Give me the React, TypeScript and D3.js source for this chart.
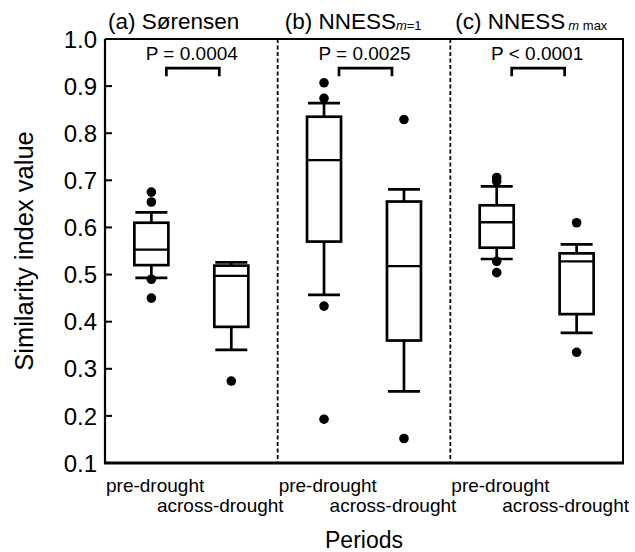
import React, { useRef, useEffect } from "react";
import * as d3 from "d3";

const panels = ["a", "b", "c"];
const periods = ["pre-drought", "across-drought"];
const pLabels = ["P = 0.0004", "P = 0.0025", "P < 0.0001"];
const yTicks = [0.1, 0.2, 0.3, 0.4, 0.5, 0.6, 0.7, 0.8, 0.9, 1.0];

// order: a-pre, a-across, b-pre, b-across, c-pre, c-across
const whiskerLow = [0.493, 0.34, 0.457, 0.252, 0.533, 0.376];
const q1 = [0.52, 0.389, 0.57, 0.36, 0.557, 0.416];
const median = [0.553, 0.497, 0.743, 0.518, 0.611, 0.528];
const q3 = [0.61, 0.519, 0.835, 0.655, 0.647, 0.545];
const whiskerHigh = [0.632, 0.526, 0.864, 0.681, 0.687, 0.564];
const outliers = [
  [0.675, 0.654, 0.49, 0.45],
  [0.274],
  [0.907, 0.874, 0.433, 0.193],
  [0.829, 0.152],
  [0.706, 0.698, 0.528, 0.504],
  [0.61, 0.335],
];

const FONT = "'Liberation Sans', Arial, sans-serif";

const App = () => {
  const svgRef = useRef<SVGSVGElement>(null);
  const width = 635;
  const height = 552;
  const margin = { top: 39, right: 12, bottom: 89, left: 105 };

  useEffect(() => {
    const svg = d3.select(svgRef.current);
    svg.selectAll("*").remove();

    const x0 = margin.left;
    const x1 = width - margin.right;
    const yTop = margin.top;
    const yBot = height - margin.bottom;

    const y = d3.scaleLinear().domain([0.1, 1.0]).range([yBot, yTop]);
    const px = d3.scaleBand().domain(panels).range([x0, x1]).padding(0);
    const bx = d3
      .scalePoint()
      .domain(periods)
      .range([0, px.bandwidth()])
      .padding(0.58);

    const boxes = panels.flatMap((p, i) =>
      periods.map((per, j) => ({ panel: p, period: per, i: i * 2 + j }))
    );
    const cx = (d) => px(d.panel) + bx(d.period);
    const boxW = 34;
    const capW = 32;

    const g = svg.append("g").attr("font-family", FONT);

    // dashed separators
    g.selectAll(".sep")
      .data(panels.slice(1))
      .join("line")
      .attr("x1", (d) => px(d))
      .attr("x2", (d) => px(d))
      .attr("y1", yTop)
      .attr("y2", yBot)
      .attr("stroke", "#000")
      .attr("stroke-width", 1.8)
      .attr("stroke-dasharray", "4,2.5");

    // whiskers
    g.selectAll(".whisk")
      .data(boxes)
      .join("line")
      .attr("x1", cx)
      .attr("x2", cx)
      .attr("y1", (d) => y(whiskerLow[d.i]))
      .attr("y2", (d) => y(whiskerHigh[d.i]))
      .attr("stroke", "#000")
      .attr("stroke-width", 2.7);

    ["low", "high"].forEach((k) => {
      g.selectAll(".cap-" + k)
        .data(boxes)
        .join("line")
        .attr("x1", (d) => cx(d) - capW / 2)
        .attr("x2", (d) => cx(d) + capW / 2)
        .attr("y1", (d) => y(k === "low" ? whiskerLow[d.i] : whiskerHigh[d.i]))
        .attr("y2", (d) => y(k === "low" ? whiskerLow[d.i] : whiskerHigh[d.i]))
        .attr("stroke", "#000")
        .attr("stroke-width", 2.7);
    });

    // boxes
    g.selectAll(".box")
      .data(boxes)
      .join("rect")
      .attr("x", (d) => cx(d) - boxW / 2)
      .attr("y", (d) => y(q3[d.i]))
      .attr("width", boxW)
      .attr("height", (d) => y(q1[d.i]) - y(q3[d.i]))
      .attr("fill", "#fff")
      .attr("stroke", "#000")
      .attr("stroke-width", 2.7);

    g.selectAll(".med")
      .data(boxes)
      .join("line")
      .attr("x1", (d) => cx(d) - boxW / 2)
      .attr("x2", (d) => cx(d) + boxW / 2)
      .attr("y1", (d) => y(median[d.i]))
      .attr("y2", (d) => y(median[d.i]))
      .attr("stroke", "#000")
      .attr("stroke-width", 2.3);

    // outlier dots
    const dots = boxes.flatMap((d) => outliers[d.i].map((v) => ({ ...d, v })));
    g.selectAll(".dot")
      .data(dots)
      .join("circle")
      .attr("cx", cx)
      .attr("cy", (d) => y(d.v))
      .attr("r", 4.8)
      .attr("fill", "#000");

    // significance brackets
    const brTop = y(0.938);
    panels.forEach((p, i) => {
      const a = px(p) + bx(periods[0]) + 15;
      const b = px(p) + bx(periods[1]) - 12;
      g.append("path")
        .attr("d", `M${a},${brTop + 8}V${brTop}H${b}V${brTop + 8}`)
        .attr("fill", "none")
        .attr("stroke", "#000")
        .attr("stroke-width", 2.7);
      g.append("text")
        .attr("x", (a + b) / 2 - 1)
        .attr("y", 60)
        .attr("text-anchor", "middle")
        .attr("font-size", 19)
        .text(pLabels[i]);
    });

    // frame
    g.append("path")
      .attr("d", `M${x0},${yTop}H${x1}V${yBot}`)
      .attr("fill", "none")
      .attr("stroke", "#000")
      .attr("stroke-width", 2);
    g.append("line")
      .attr("x1", x0)
      .attr("x2", x0)
      .attr("y1", yTop)
      .attr("y2", yBot)
      .attr("stroke", "#000")
      .attr("stroke-width", 2.2);
    g.append("line")
      .attr("x1", x0 - 1)
      .attr("x2", x1 + 1)
      .attr("y1", yBot)
      .attr("y2", yBot)
      .attr("stroke", "#000")
      .attr("stroke-width", 3);

    // y ticks
    g.selectAll(".ytick")
      .data(yTicks)
      .join("line")
      .attr("x1", x0)
      .attr("x2", x0 + 7)
      .attr("y1", (d) => y(d))
      .attr("y2", (d) => y(d))
      .attr("stroke", "#000")
      .attr("stroke-width", 2);
    g.selectAll(".ylab")
      .data(yTicks)
      .join("text")
      .attr("x", x0 - 8)
      .attr("y", (d) => y(d))
      .attr("dy", "0.36em")
      .attr("text-anchor", "end")
      .attr("font-size", 24)
      .text((d) => d.toFixed(1));

    // y axis title
    g.append("text")
      .attr("transform", `translate(33,${(yTop + yBot) / 2}) rotate(-90)`)
      .attr("text-anchor", "middle")
      .attr("font-size", 25.5)
      .text("Similarity index value");

    // category labels
    panels.forEach((p) => {
      g.append("text")
        .attr("x", px(p) + 1)
        .attr("y", 492)
        .attr("font-size", 19)
        .text(periods[0]);
      g.append("text")
        .attr("x", px(p) + px.bandwidth() + 6)
        .attr("y", 512)
        .attr("text-anchor", "end")
        .attr("font-size", 19)
        .text(periods[1]);
    });

    g.append("text")
      .attr("x", (x0 + x1) / 2)
      .attr("y", 548)
      .attr("text-anchor", "middle")
      .attr("font-size", 23)
      .text("Periods");

    // panel titles
    const t1 = g.append("text").attr("x", px("a") + 3).attr("y", 29).attr("font-size", 22.5);
    t1.text("(a) Sørensen");

    const t2 = g.append("text").attr("x", px("b") + 7).attr("y", 29).attr("font-size", 22.5);
    t2.append("tspan").text("(b) NNESS");
    t2.append("tspan").attr("font-size", 13).attr("font-style", "italic").attr("dy", 1).text("m");
    t2.append("tspan").attr("font-size", 13).text("=1");

    const t3 = g.append("text").attr("x", px("c") + 5).attr("y", 29).attr("font-size", 22.5);
    t3.append("tspan").text("(c) NNESS");
    t3.append("tspan").attr("font-size", 13).attr("font-style", "italic").attr("dx", 3).attr("dy", 1).text("m");
    t3.append("tspan").attr("font-size", 13).text(" max");
  }, []);

  return (
    <svg
      ref={svgRef}
      width={width}
      height={height}
      style={{ position: "absolute", left: 0, top: 0, background: "#fff" }}
    />
  );
};

export default App;
